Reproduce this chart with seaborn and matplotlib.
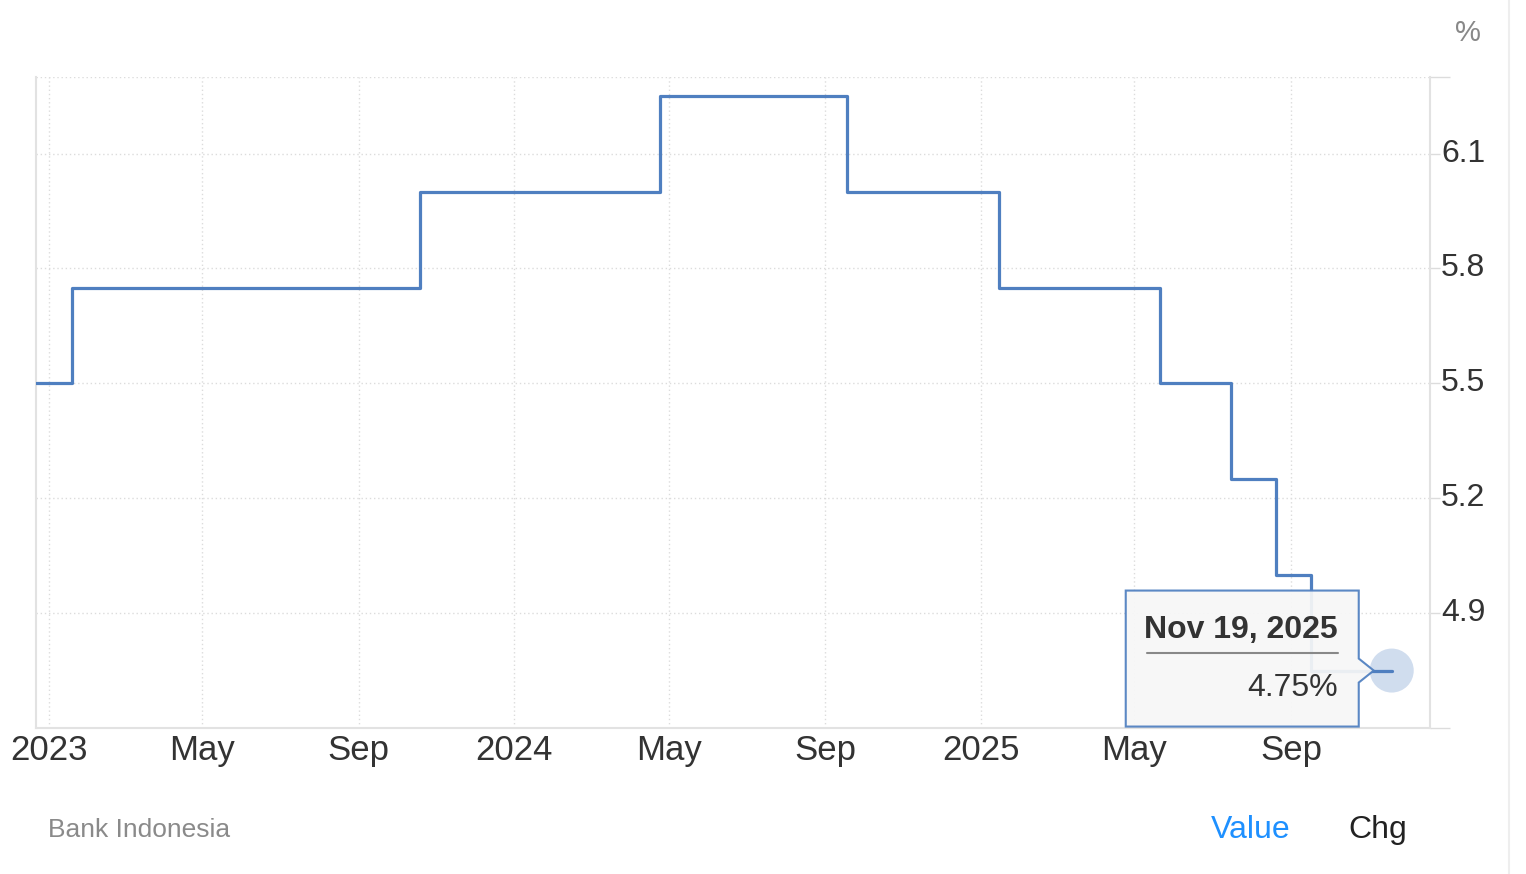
import pandas as pd
import seaborn as sns
import matplotlib.pyplot as plt
import matplotlib.dates as mdates
from matplotlib.patches import Polygon, Circle
from matplotlib.lines import Line2D
from matplotlib.transforms import IdentityTransform, ScaledTranslation

# Bank Indonesia policy rate decisions
dates = ["2022-12-22", "2023-01-19", "2023-10-19", "2024-04-24", "2024-09-18",
         "2025-01-15", "2025-05-21", "2025-07-16", "2025-08-20", "2025-09-17",
         "2025-11-19"]
rates = [5.50, 5.75, 6.00, 6.25, 6.00, 5.75, 5.50, 5.25, 5.00, 4.75, 4.75]

x_ticks = ["2023-01-01", "2023-05-01", "2023-09-01", "2024-01-01", "2024-05-01",
           "2024-09-01", "2025-01-01", "2025-05-01", "2025-09-01"]
x_labels = ["2023", "May", "Sep", "2024", "May", "Sep", "2025", "May", "Sep"]
y_ticks = [4.9, 5.2, 5.5, 5.8, 6.1]
y_labels = ["4.9", "5.2", "5.5", "5.8", "6.1"]

last_date = "Nov 19, 2025"
last_value = "4.75%"

df = pd.DataFrame({"date": pd.to_datetime(dates), "rate": rates})

sns.set_theme(style="white")
plt.rcParams["font.family"] = ["Liberation Sans", "DejaVu Sans"]

line_color = "#4f7fc0"
grid_color = "#dcdcdc"
text_color = "#333333"

fig = plt.figure(figsize=(15.26, 8.74), dpi=100)
ax = fig.add_axes([36 / 1526, 1 - 728 / 874, (1430 - 36) / 1526, (728 - 77) / 874])

sns.lineplot(data=df, x="date", y="rate", ax=ax, drawstyle="steps-post",
             color=line_color, linewidth=2.3, zorder=3)

ax.set_xlim(pd.Timestamp("2022-12-22"), pd.Timestamp("2025-12-19"))
ax.set_ylim(4.6, 6.3)

ax.set_xticks(pd.to_datetime(x_ticks))
ax.set_xticklabels(x_labels)
ax.set_yticks(y_ticks)
ax.set_yticklabels(y_labels)
ax.set_yticks([4.6, 6.3], minor=True)
ax.yaxis.tick_right()
ax.tick_params(axis="x", length=0, pad=4, labelsize=25, labelcolor=text_color)
ax.tick_params(axis="y", which="major", length=7, width=1, color=grid_color,
               pad=1, labelsize=23, labelcolor=text_color)
ax.tick_params(axis="y", which="minor", length=14.4, width=1, color=grid_color)
for lbl in ax.get_yticklabels():
    lbl.set_transform(lbl.get_transform() + ScaledTranslation(0, 0.035, fig.dpi_scale_trans))

ax.grid(True, which="major", linestyle=(0, (1, 2)), color=grid_color, linewidth=1)
ax.axhline(6.3, linestyle=(0, (1, 2)), color=grid_color, linewidth=1, zorder=1)
ax.set_xlabel("")
ax.set_ylabel("")

for side in ["left", "bottom", "right"]:
    ax.spines[side].set_color("#e2e2e2")
    ax.spines[side].set_linewidth(1.5)
ax.spines["top"].set_visible(False)

# highlight on the last point + tooltip
fig.canvas.draw()
px, py = ax.transData.transform((mdates.date2num(df["date"].iloc[-1]), rates[-1]))
ax.add_patch(Circle((px, py), 22, transform=IdentityTransform(), facecolor="#c8d7ec",
                    edgecolor="none", alpha=0.85, zorder=4))
ax.plot(df["date"].iloc[-2:], rates[-2:], color=line_color, linewidth=2.3, zorder=5)

left, right = px - 266, px - 33
top, bottom = py + 80, py - 56
tip = [(left, bottom), (left, top), (right, top), (right, py + 12),
       (px - 18, py), (right, py - 12), (right, bottom)]
fig.patches.append(Polygon(tip, closed=True, transform=IdentityTransform(),
                           facecolor="#f7f7f7", edgecolor=line_color, linewidth=1.5,
                           alpha=0.93, figure=fig))
fig.text(right - 21, top - 39, last_date, transform=IdentityTransform(), ha="right",
         va="center", fontsize=23, fontweight="bold", color=text_color)
fig.lines.append(Line2D([left + 21, right - 21], [top - 62, top - 62],
                        transform=IdentityTransform(), color="#888888", linewidth=1.5))
fig.text(right - 21, py - 17, last_value, transform=IdentityTransform(), ha="right",
         va="center", fontsize=23, color=text_color)

# page furniture
fig.text(1468 / 1526, 1 - 33 / 874, "%", ha="center", va="center", fontsize=21, color="#888888")
fig.text(48 / 1526, 1 - 830 / 874, "Bank Indonesia", ha="left", va="center",
         fontsize=19, color="#8a8a8a")
fig.text(1251 / 1526, 1 - 830 / 874, "Value", ha="center", va="center", fontsize=23,
         color="#1e90ff")
fig.text(1378 / 1526, 1 - 830 / 874, "Chg", ha="center", va="center", fontsize=23,
         color="#222222")
fig.lines.append(Line2D([1509 / 1526, 1509 / 1526], [0, 1], transform=fig.transFigure,
                        color="#eeeeee", linewidth=1.5))

fig.savefig("out.png", dpi=100)
